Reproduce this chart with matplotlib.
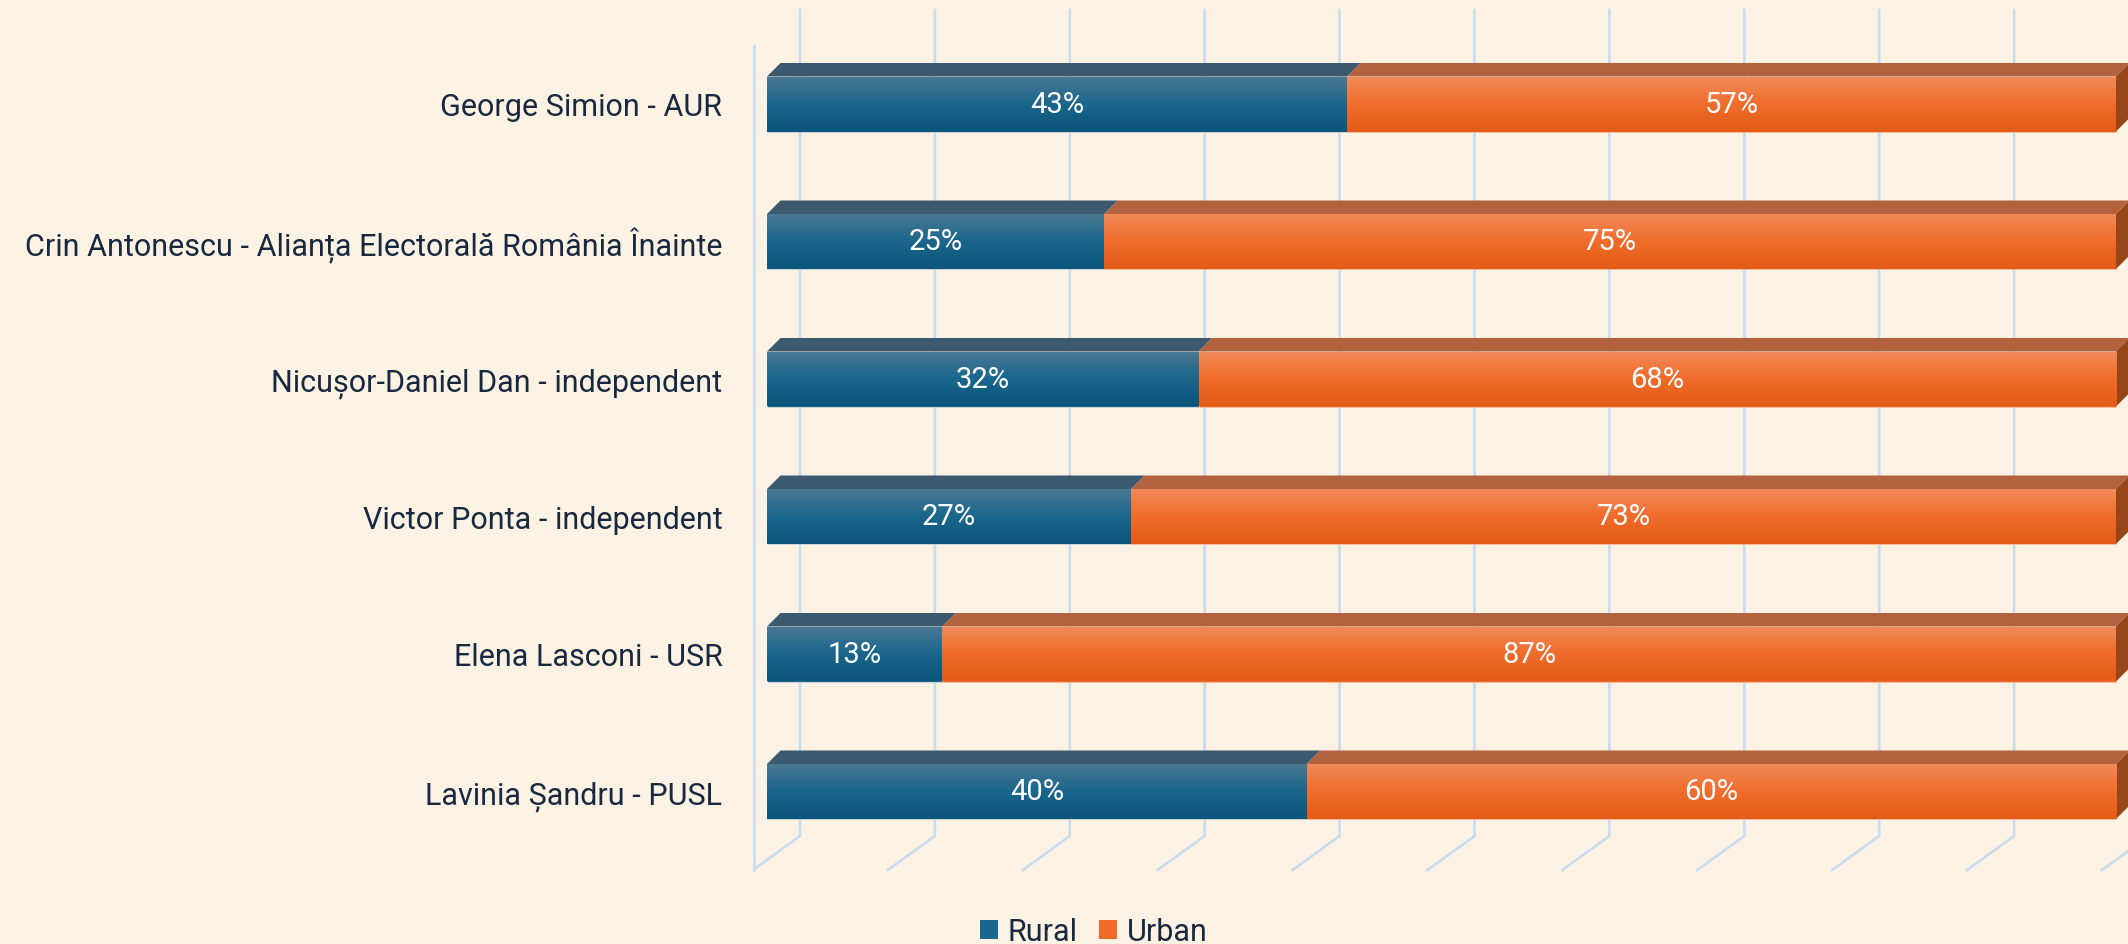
import numpy as np
import matplotlib
matplotlib.use('Agg')
from matplotlib import pyplot as plt
from matplotlib.colors import LinearSegmentedColormap
from matplotlib.patches import Polygon, Patch

candidates = ['George Simion - AUR',
              'Crin Antonescu - Alianța Electorală România Înainte',
              'Nicușor-Daniel Dan - independent',
              'Victor Ponta - independent',
              'Elena Lasconi - USR',
              'Lavinia Șandru - PUSL']
rural = [43, 25, 32, 27, 13, 40]
urban = [57, 75, 68, 73, 87, 60]
series_names = ['Rural', 'Urban']

bg = '#fcf2e4'
navy = '#17283f'
grid_c = '#c8dbef'

plt.rcParams['font.family'] = ['Roboto', 'DejaVu Sans']

W, H = 2128, 945
fig = plt.figure(figsize=(W / 100, H / 100), dpi=100, facecolor=bg)

# pixel geometry of the pseudo-3d frame
x0_px = 767.0          # front of bars, 0 %
px_per_unit = 13.49    # px per percent
y0_px = 105.0          # centre of first bar
px_per_cat = 137.5
ax_left_px = 753.0

ax = fig.add_axes([ax_left_px / W, 0, 1 - ax_left_px / W, 1])
ax.set_facecolor(bg)
for s in ax.spines.values():
    s.set_visible(False)
ax.set_xticks([])

def dx(p):
    return p / px_per_unit

def dy(p):
    return p / px_per_cat

xlim = ((ax_left_px - x0_px) / px_per_unit, (W - x0_px) / px_per_unit)
ylim = ((H - y0_px) / px_per_cat, -y0_px / px_per_cat)

# back wall gridlines + floor diagonals
back_dx = dx(33)
top_y = dy(11 - y0_px)
back_bot = dy(837 - y0_px)
front_bot = dy(871 - y0_px)
for k in range(0, 110, 10):
    xb = k + back_dx
    ax.plot([xb, xb, xb - dx(47)], [top_y, back_bot, front_bot],
            color=grid_c, lw=1.9, zorder=1, solid_joinstyle='miter')
ax.plot([xlim[0] + dx(1)] * 2, [dy(47 - y0_px), front_bot], color=grid_c, lw=1.9, zorder=1)

ypos = np.arange(len(candidates))
bh = 0.40
ddx, ddy = dx(13.5), dy(13.5)

rural_cmap = LinearSegmentedColormap.from_list('r', ['#4a7893', '#1a668c', '#0a5579'])
urban_cmap = LinearSegmentedColormap.from_list('u', ['#f18a5a', '#f06c2a', '#e25b17'])
grad = np.linspace(0, 1, 64).reshape(-1, 1)

bars_r = ax.barh(ypos, rural, height=bh, color='#1a668c', edgecolor='#d8dde0', lw=0.6, zorder=3)
bars_u = ax.barh(ypos, urban, left=rural, height=bh, color='#ef6a2a', edgecolor='#f2c0a0', lw=0.6, zorder=3)

for bars, cmap, top_c in [(bars_r, rural_cmap, '#3b5a6f'), (bars_u, urban_cmap, '#b3623f')]:
    for b in bars:
        x, y, w, h = b.get_x(), b.get_y(), b.get_width(), b.get_height()
        im = ax.imshow(grad, cmap=cmap, extent=(x, x + w, y + h, y), origin='upper',
                       aspect='auto', zorder=3.5, interpolation='bilinear')
        im.set_clip_path(b)
        top = Polygon([(x, y), (x + w, y), (x + w + ddx, y - ddy), (x + ddx, y - ddy)],
                      closed=True, facecolor=top_c, edgecolor='none', zorder=3)
        ax.add_patch(top)

# right side faces of urban bars
for b in bars_u:
    x, y, w, h = b.get_x(), b.get_y(), b.get_width(), b.get_height()
    xe = x + w
    side = Polygon([(xe, y), (xe + ddx, y - ddy), (xe + ddx, y + h - ddy), (xe, y + h)],
                   closed=True, facecolor='#97461a', edgecolor='none', zorder=3)
    ax.add_patch(side)

ax.set_xlim(*xlim)
ax.set_ylim(*ylim)

for i in range(len(candidates)):
    ax.text(rural[i] / 2, ypos[i], f'{rural[i]}%', ha='center', va='center',
            color='white', fontsize=21, zorder=5)
    ax.text(rural[i] + urban[i] / 2, ypos[i], f'{urban[i]}%', ha='center', va='center',
            color='white', fontsize=21, zorder=5)

ax.set_yticks(ypos)
ax.set_yticklabels(candidates, fontsize=22, color=navy)
ax.tick_params(axis='y', length=0, pad=22)

handles = [Patch(facecolor='#1a668c', label=series_names[0]),
           Patch(facecolor='#ef6a2a', label=series_names[1])]
fig.legend(handles=handles, loc='center', bbox_to_anchor=(0.514, 0.013), ncol=2,
           frameon=False, fontsize=22, labelcolor=navy, handlelength=0.6,
           handleheight=0.6, handletextpad=0.3, columnspacing=0.7)

fig.savefig('out.png', dpi=100, facecolor=bg)
